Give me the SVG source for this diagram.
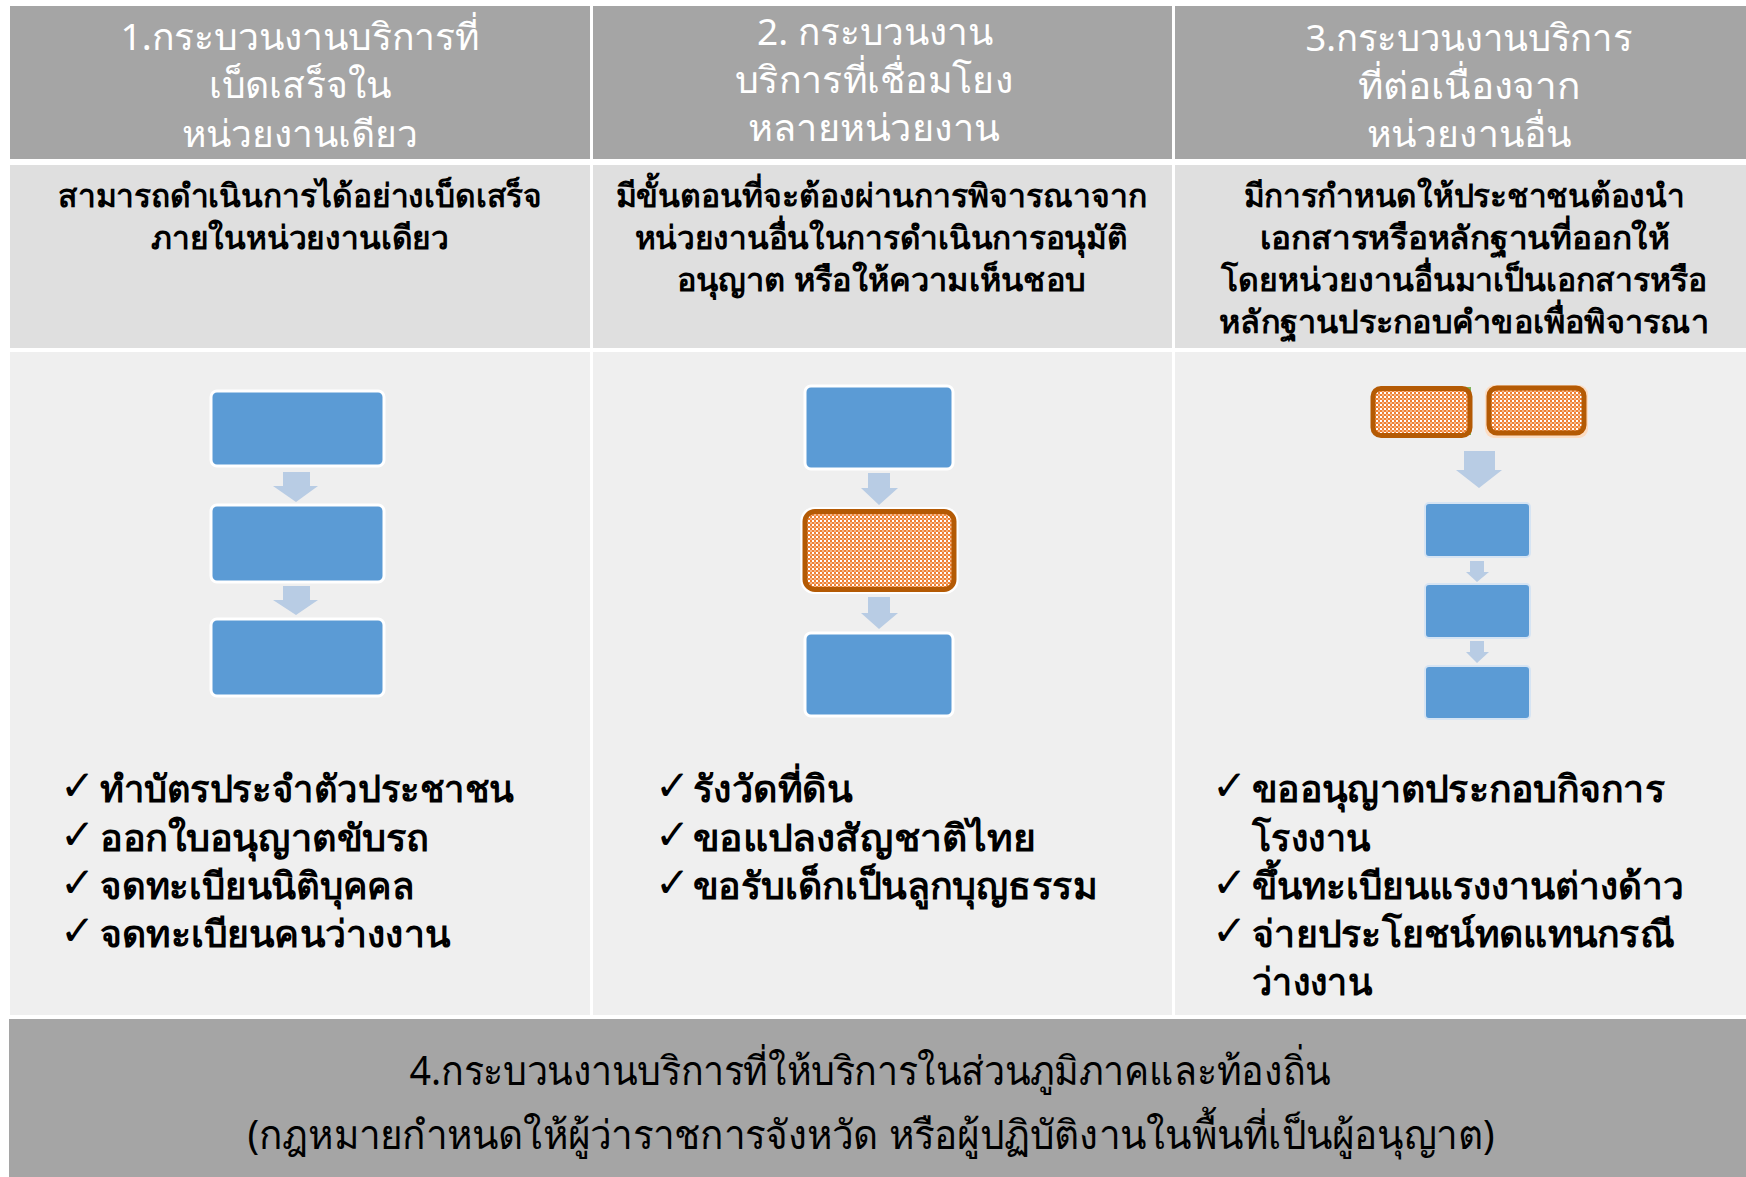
<svg xmlns="http://www.w3.org/2000/svg" width="1746" height="1177" viewBox="0 0 1746 1177">
<defs>
<style>
.hdr{fill:#a5a5a5}
.r2{fill:#dfdfdf}
.r3{fill:#efefef}
.ht{font-family:"Noto Sans","DejaVu Sans",sans-serif;font-size:37px;fill:#ffffff;text-anchor:middle}
.dt{font-family:"Noto Sans","DejaVu Sans",sans-serif;font-size:32px;font-weight:bold;fill:#000000;text-anchor:middle}
.lt{font-family:"Noto Sans","DejaVu Sans",sans-serif;font-size:37px;font-weight:bold;fill:#000000}
.ck{font-family:"DejaVu Sans",sans-serif;font-size:42px;font-weight:bold;fill:#000000}
.bt{font-family:"Noto Sans","DejaVu Sans",sans-serif;font-size:40px;fill:#000000;text-anchor:middle}
.blue{fill:#5b9bd5;stroke:#ffffff;stroke-width:3}
.blue3{fill:#5b9bd5;stroke:#d6e4f3;stroke-width:2}
.org{fill:url(#chk);stroke:#b45a04;stroke-width:5}
.halo{fill:none;stroke:#ffffff;stroke-width:3}
.arr{fill:#b8cce4}
</style>
<pattern id="chk" width="4" height="4" patternUnits="userSpaceOnUse">
<rect width="4" height="4" fill="#ee8034"/>
<rect width="2" height="2" fill="#ffffff"/>
<rect x="2" y="2" width="2" height="2" fill="#f6b889"/>
</pattern>
</defs>
<rect width="1746" height="1177" fill="#ffffff"/>
<g id="cells">
<rect class="hdr" x="10" y="6" width="580" height="153"/>
<rect class="hdr" x="593" y="6" width="579" height="153"/>
<rect class="hdr" x="1175" y="6" width="571" height="153"/>
<rect class="r2" x="10" y="165" width="580" height="183"/>
<rect class="r2" x="593" y="165" width="579" height="183"/>
<rect class="r2" x="1175" y="165" width="571" height="183"/>
<rect class="r3" x="10" y="352" width="580" height="663"/>
<rect class="r3" x="593" y="352" width="579" height="663"/>
<rect class="r3" x="1175" y="352" width="571" height="663"/>
<rect class="hdr" x="9" y="1019" width="1737" height="158"/>
</g>
<g id="header1">
<text class="ht" x="300" y="50" textLength="359" lengthAdjust="spacingAndGlyphs">1.กระบวนงานบริการที่</text>
<text class="ht" x="300" y="98" textLength="183" lengthAdjust="spacingAndGlyphs">เบ็ดเสร็จใน</text>
<text class="ht" x="300" y="147" textLength="237" lengthAdjust="spacingAndGlyphs">หน่วยงานเดียว</text>
</g>
<g id="header2">
<text class="ht" x="875" y="45" textLength="236" lengthAdjust="spacingAndGlyphs">2. กระบวนงาน</text>
<text class="ht" x="874" y="93" textLength="278" lengthAdjust="spacingAndGlyphs">บริการที่เชื่อมโยง</text>
<text class="ht" x="874" y="141" textLength="252" lengthAdjust="spacingAndGlyphs">หลายหน่วยงาน</text>
</g>
<g id="header3">
<text class="ht" x="1469" y="51" textLength="327" lengthAdjust="spacingAndGlyphs">3.กระบวนงานบริการ</text>
<text class="ht" x="1469" y="99" textLength="223" lengthAdjust="spacingAndGlyphs">ที่ต่อเนื่องจาก</text>
<text class="ht" x="1469" y="147" textLength="205" lengthAdjust="spacingAndGlyphs">หน่วยงานอื่น</text>
</g>
<g id="desc1">
<text class="dt" x="300" y="207" textLength="484" lengthAdjust="spacingAndGlyphs">สามารถดำเนินการได้อย่างเบ็ดเสร็จ</text>
<text class="dt" x="300" y="249" textLength="298" lengthAdjust="spacingAndGlyphs">ภายในหน่วยงานเดียว</text>
</g>
<g id="desc2">
<text class="dt" x="881" y="207" textLength="531" lengthAdjust="spacingAndGlyphs">มีขั้นตอนที่จะต้องผ่านการพิจารณาจาก</text>
<text class="dt" x="881" y="249" textLength="493" lengthAdjust="spacingAndGlyphs">หน่วยงานอื่นในการดำเนินการอนุมัติ</text>
<text class="dt" x="881" y="291" textLength="409" lengthAdjust="spacingAndGlyphs">อนุญาต หรือให้ความเห็นชอบ</text>
</g>
<g id="desc3">
<text class="dt" x="1464" y="207" textLength="441" lengthAdjust="spacingAndGlyphs">มีการกำหนดให้ประชาชนต้องนำ</text>
<text class="dt" x="1465" y="249" textLength="410" lengthAdjust="spacingAndGlyphs">เอกสารหรือหลักฐานที่ออกให้</text>
<text class="dt" x="1464" y="291" textLength="486" lengthAdjust="spacingAndGlyphs">โดยหน่วยงานอื่นมาเป็นเอกสารหรือ</text>
<text class="dt" x="1464" y="333" textLength="490" lengthAdjust="spacingAndGlyphs">หลักฐานประกอบคำขอเพื่อพิจารณา</text>
</g>
<g id="flow1-box1"><rect class="blue" x="211" y="391" width="173" height="75" rx="6"/></g>
<g id="flow1-box2"><rect class="blue" x="211" y="505" width="173" height="77" rx="6"/></g>
<g id="flow1-box3"><rect class="blue" x="211" y="619" width="173" height="77" rx="6"/></g>
<g id="flow2-box1"><rect class="blue" x="805" y="386" width="148" height="83" rx="6"/></g>
<g id="flow2-box2"><rect class="halo" x="802" y="508.5" width="155" height="84" rx="12"/><rect class="org" x="805" y="511.5" width="149" height="78" rx="10"/></g>
<g id="flow2-box3"><rect class="blue" x="805" y="633" width="148" height="83" rx="6"/></g>
<g id="flow3-doc1"><rect x="1466" y="387" width="5" height="48" fill="#7fb357"/><rect class="org" x="1373" y="388.5" width="97" height="47" rx="8"/></g>
<g id="flow3-doc2"><rect x="1485" y="385" width="103" height="53" rx="9" fill="#fcdcc2"/><rect class="org" x="1489" y="388" width="95" height="45" rx="8"/></g>
<g id="flow3-box1"><rect class="blue3" x="1425" y="503" width="105" height="54" rx="4"/></g>
<g id="flow3-box2"><rect class="blue3" x="1425" y="584" width="105" height="54" rx="4"/></g>
<g id="flow3-box3"><rect class="blue3" x="1425" y="666" width="105" height="53" rx="4"/></g>
<g id="connectors">
<polygon class="arr" points="283,472 310,472 310,486 318,486 296,502 273,486 283,486"/>
<polygon class="arr" points="283,586 310,586 310,600 318,600 296,615 273,600 283,600"/>
<polygon class="arr" points="868,473 890,473 890,488 898,488 879,505 861,488 868,488"/>
<polygon class="arr" points="868,597 890,597 890,613 898,613 879,629 861,613 868,613"/>
<polygon class="arr" points="1464,451 1495,451 1495,470 1502,470 1479,488 1456,470 1464,470"/>
<polygon class="arr" points="1470,561 1484,561 1484,572 1489,572 1477,582 1466,572 1470,572"/>
<polygon class="arr" points="1470,641 1484,641 1484,652 1489,652 1477,663 1466,652 1470,652"/>
</g>
<g id="list1">
<text class="ck" x="60" y="800">✓</text><text class="lt" x="100" y="802" textLength="414" lengthAdjust="spacingAndGlyphs">ทำบัตรประจำตัวประชาชน</text>
<text class="ck" x="60" y="849">✓</text><text class="lt" x="100" y="851" textLength="329" lengthAdjust="spacingAndGlyphs">ออกใบอนุญาตขับรถ</text>
<text class="ck" x="60" y="897">✓</text><text class="lt" x="100" y="899" textLength="315" lengthAdjust="spacingAndGlyphs">จดทะเบียนนิติบุคคล</text>
<text class="ck" x="60" y="945">✓</text><text class="lt" x="100" y="947" textLength="350" lengthAdjust="spacingAndGlyphs">จดทะเบียนคนว่างงาน</text>
</g>
<g id="list2">
<text class="ck" x="655" y="800">✓</text><text class="lt" x="693" y="802" textLength="159" lengthAdjust="spacingAndGlyphs">รังวัดที่ดิน</text>
<text class="ck" x="655" y="849">✓</text><text class="lt" x="693" y="851" textLength="343" lengthAdjust="spacingAndGlyphs">ขอแปลงสัญชาติไทย</text>
<text class="ck" x="655" y="897">✓</text><text class="lt" x="693" y="899" textLength="404" lengthAdjust="spacingAndGlyphs">ขอรับเด็กเป็นลูกบุญธรรม</text>
</g>
<g id="list3">
<text class="ck" x="1212" y="800">✓</text><text class="lt" x="1252" y="802" textLength="413" lengthAdjust="spacingAndGlyphs">ขออนุญาตประกอบกิจการ</text>
<text class="lt" x="1252" y="851" textLength="118" lengthAdjust="spacingAndGlyphs">โรงงาน</text>
<text class="ck" x="1212" y="897">✓</text><text class="lt" x="1252" y="899" textLength="432" lengthAdjust="spacingAndGlyphs">ขึ้นทะเบียนแรงงานต่างด้าว</text>
<text class="ck" x="1212" y="945">✓</text><text class="lt" x="1252" y="947" textLength="422" lengthAdjust="spacingAndGlyphs">จ่ายประโยชน์ทดแทนกรณี</text>
<text class="lt" x="1252" y="995" textLength="120" lengthAdjust="spacingAndGlyphs">ว่างงาน</text>
</g>
<g id="footer">
<text class="bt" x="870" y="1085" textLength="921" lengthAdjust="spacingAndGlyphs">4.กระบวนงานบริการที่ให้บริการในส่วนภูมิภาคและท้องถิ่น</text>
<text class="bt" x="871" y="1149" textLength="1247" lengthAdjust="spacingAndGlyphs">(กฎหมายกำหนดให้ผู้ว่าราชการจังหวัด หรือผู้ปฏิบัติงานในพื้นที่เป็นผู้อนุญาต)</text>
</g>
</svg>
